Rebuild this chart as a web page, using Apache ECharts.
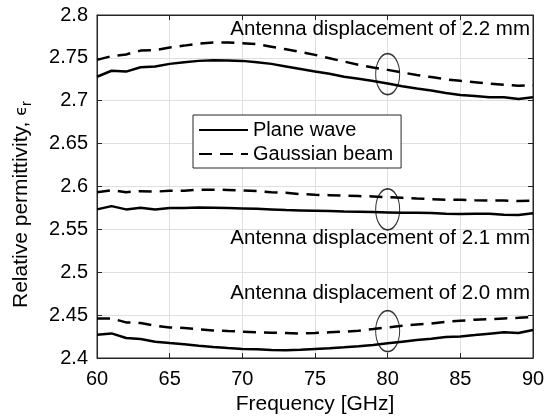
<!DOCTYPE html>
<html>
<head>
<meta charset="utf-8">
<script src="https://cdn.jsdelivr.net/npm/echarts@6/dist/echarts.min.js"></script>
<style>
html, body { margin: 0; padding: 0; background: #fff; }
#chart { width: 548px; height: 420px; }
</style>
</head>
<body>
<div id="chart"></div>
<script>
// frequency points (GHz)
const freq = [60,61,62,63,64,65,66,67,68,69,70,71,72,73,74,75,76,77,78,79,80,81,82,83,84,85,86,87,88,89,90];

// 2.2 mm displacement
const plane22 = [2.728,2.735,2.734,2.739,2.740,2.743,2.745,2.7465,2.7473,2.747,2.7465,2.745,2.743,2.740,2.737,2.734,2.7314,2.728,2.7256,2.723,2.720,2.717,2.7143,2.712,2.709,2.7066,2.7054,2.704,2.704,2.702,2.704];
const gauss22 = [2.7477,2.752,2.754,2.7585,2.759,2.762,2.7643,2.7667,2.768,2.768,2.767,2.766,2.763,2.760,2.757,2.7535,2.7496,2.7457,2.742,2.7387,2.736,2.733,2.730,2.7276,2.725,2.7233,2.7217,2.720,2.7186,2.7174,2.718];
// 2.1 mm displacement
const plane21 = [2.5733,2.5771,2.5733,2.5752,2.5733,2.5748,2.5748,2.5756,2.5752,2.5748,2.5744,2.574,2.5733,2.5725,2.5721,2.5717,2.5713,2.5709,2.5706,2.5702,2.5698,2.5694,2.5694,2.569,2.5683,2.5679,2.5683,2.5683,2.5671,2.5667,2.5687];
const gauss21 = [2.5934,2.5957,2.5934,2.5946,2.594,2.595,2.595,2.5962,2.5962,2.596,2.5953,2.5946,2.5934,2.5926,2.5912,2.5903,2.5899,2.5892,2.5888,2.5884,2.5876,2.5868,2.586,2.5853,2.5845,2.5845,2.584,2.5837,2.5837,2.583,2.5837];
// 2.0 mm displacement
const plane20 = [2.4271,2.4287,2.4233,2.4221,2.419,2.4174,2.4159,2.4143,2.4128,2.4116,2.4105,2.4101,2.4093,2.4089,2.4095,2.4105,2.4113,2.4124,2.4136,2.4151,2.4171,2.419,2.4209,2.4225,2.4244,2.4252,2.4267,2.4283,2.4299,2.4291,2.4326];
const gauss20 = [2.4461,2.4461,2.4415,2.4407,2.4376,2.4357,2.435,2.4334,2.4322,2.4314,2.4307,2.4299,2.4295,2.4291,2.4285,2.4291,2.4299,2.4307,2.4318,2.4337,2.4357,2.4376,2.4392,2.4403,2.4422,2.4434,2.4446,2.4453,2.4461,2.4469,2.448];

// ellipse markers at 80 GHz
const ellipseX = [80, 80, 80];
const ellipseY = [2.731, 2.5733, 2.4314];

const labels = ['Antenna displacement of 2.2 mm', 'Antenna displacement of 2.1 mm', 'Antenna displacement of 2.0 mm'];
const labelTop = [19, 228, 283];

const FONT = 'Liberation Sans, Arial, sans-serif';
const AXIS = '#262626';

const chart = echarts.init(document.getElementById('chart'));

function pairs(arr) {
    return freq.map((f, i) => [f, arr[i]]);
}
function lineSeries(name, arr, dashed) {
    return {
        name: name,
        type: 'line',
        data: pairs(arr),
        symbol: 'none',
        showSymbol: false,
        lineStyle: { color: '#000', width: 2.5, type: dashed ? [13, 8] : 'solid' },
        itemStyle: { color: '#000' },
        z: 3
    };
}

const option = {
    animation: false,
    textStyle: { fontFamily: FONT },
    grid: { left: 97, right: 15, top: 15, bottom: 61, show: true, borderColor: AXIS, borderWidth: 1 },
    legend: {
        data: ['Plane wave', 'Gaussian beam'],
        orient: 'vertical',
        left: 193,
        top: 115,
        itemWidth: 49,
        itemHeight: 18,
        itemGap: 4,
        padding: [5, 8, 4, 5],
        backgroundColor: '#fff',
        borderColor: AXIS,
        borderWidth: 1,
        borderRadius: 0,
        // hide the symbol, keep only the line
        itemStyle: { color: 'rgba(0,0,0,0)', borderColor: 'rgba(0,0,0,0)', borderWidth: 0 },
        textStyle: { fontSize: 20, color: '#000', fontFamily: FONT }
    },
    xAxis: [{
        type: 'value',
        min: 60, max: 90, interval: 5,
        name: 'Frequency [GHz]',
        nameLocation: 'middle',
        nameGap: 36,
        nameTextStyle: { fontSize: 21, color: '#000', fontFamily: FONT },
        axisLine: { show: true, lineStyle: { color: AXIS } },
        axisTick: { show: true, inside: true, length: 5, lineStyle: { color: AXIS } },
        axisLabel: { fontSize: 20, color: '#000', margin: 11, fontFamily: FONT },
        splitLine: { show: true, lineStyle: { color: '#dfdfdf', width: 1 } }
    }, {
        type: 'value', position: 'top',
        min: 60, max: 90, interval: 5,
        axisLine: { show: true, lineStyle: { color: AXIS } },
        axisTick: { show: true, inside: true, length: 5, lineStyle: { color: AXIS } },
        axisLabel: { show: false },
        splitLine: { show: false }
    }],
    yAxis: [{
        type: 'value',
        min: 2.4, max: 2.8, interval: 0.05,
        name: 'Relative permittivity, {e|ϵ}{s|r}',
        nameLocation: 'middle',
        nameGap: 63,
        nameTextStyle: {
            fontSize: 21, color: '#000', fontFamily: FONT,
            padding: [0, 36, 0, 0],
            rich: {
                e: { fontSize: 16, color: '#000', fontFamily: 'DejaVu Sans' },
                s: { fontSize: 15, color: '#000', fontFamily: FONT, verticalAlign: 'bottom', padding: [10, 0, 0, 0] }
            }
        },
        axisLine: { show: true, lineStyle: { color: AXIS } },
        axisTick: { show: true, inside: true, length: 5, lineStyle: { color: AXIS } },
        axisLabel: {
            fontSize: 20, color: '#000', margin: 9, fontFamily: FONT,
            formatter: v => String(parseFloat(v.toFixed(2)))
        },
        splitLine: { show: true, lineStyle: { color: '#dfdfdf', width: 1 } }
    }, {
        type: 'value', position: 'right',
        min: 2.4, max: 2.8, interval: 0.05,
        axisLine: { show: true, lineStyle: { color: AXIS } },
        axisTick: { show: true, inside: true, length: 5, lineStyle: { color: AXIS } },
        axisLabel: { show: false },
        splitLine: { show: false }
    }],
    series: [
        lineSeries('Plane wave', plane22, false),
        lineSeries('Gaussian beam', gauss22, true),
        lineSeries('Plane wave', plane21, false),
        lineSeries('Gaussian beam', gauss21, true),
        lineSeries('Plane wave', plane20, false),
        lineSeries('Gaussian beam', gauss20, true),
        {
            type: 'scatter',
            data: ellipseX.map((x, i) => [x, ellipseY[i]]),
            symbol: 'circle',
            symbolSize: [24, 41],
            itemStyle: { color: 'rgba(0,0,0,0)', borderColor: '#000', borderWidth: 1.3 },
            z: 4,
            silent: true
        }
    ],
    graphic: labels.map((t, i) => ({
        type: 'text',
        right: 18,
        top: labelTop[i],
        style: { text: t, fontSize: 20.5, fill: '#000', fontFamily: FONT },
        z: 10
    }))
};

chart.setOption(option);
</script>
</body>
</html>
